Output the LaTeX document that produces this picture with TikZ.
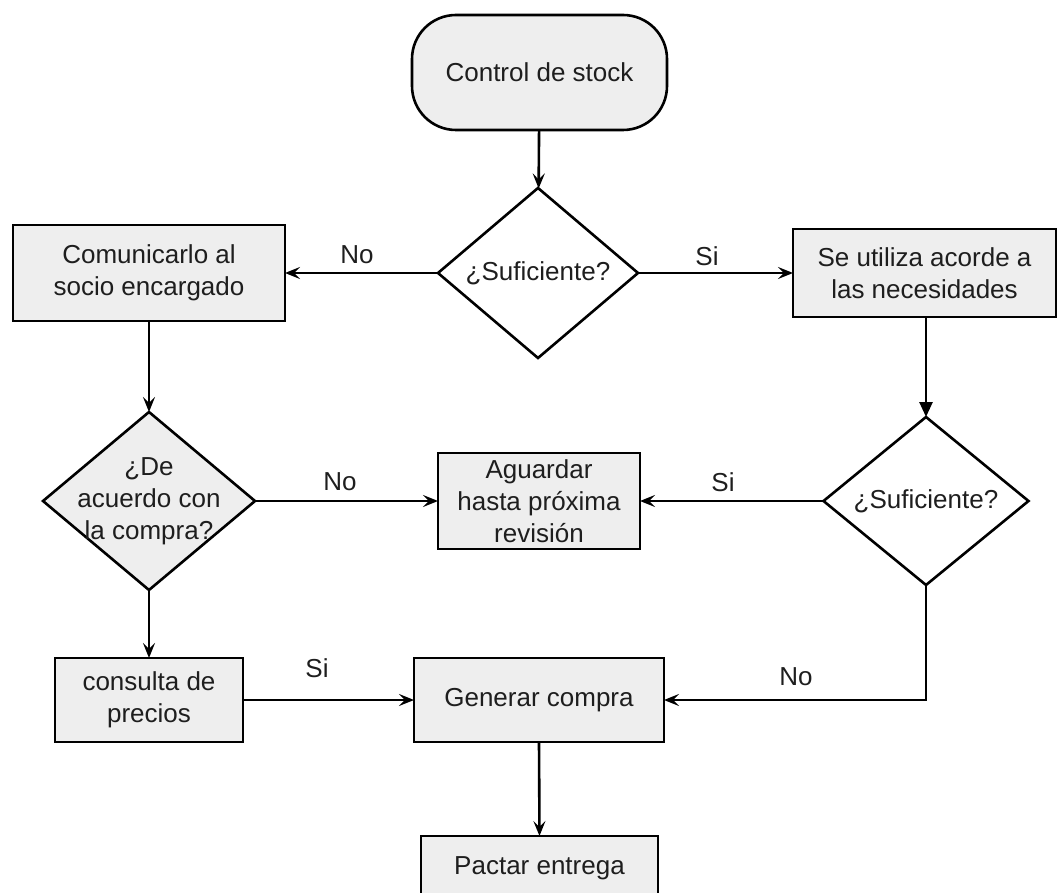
\documentclass[tikz,border=0pt]{standalone}
\usepackage{fontspec}
\usetikzlibrary{arrows.meta,shapes.geometric}
\newfontfamily\lblfam{Liberation Sans}
\newcommand\lblfont{\lblfam\fontsize{26}{32}\selectfont}
\definecolor{boxgray}{HTML}{EEEEEE}
\definecolor{inkgray}{HTML}{1E1E1E}
\tikzset{
  base/.style={draw=black, line width=2.6pt, inner sep=0pt, outer sep=0pt,
    align=center, font=\lblfont, text=inkgray},
  procbox/.style={base, rectangle, fill=boxgray},
  termbox/.style={base, rectangle, rounded corners=44pt, fill=boxgray},
  decis/.style={base, diamond},
  lab/.style={font=\lblfont, text=inkgray, inner sep=0pt},
  conn/.style={draw=black, line width=2.6pt, -{Stealth[length=15pt,width=12pt,inset=6pt]}},
  connfill/.style={draw=black, line width=2.6pt, -{Triangle[length=15pt,width=13pt]}}
}
\begin{document}
\begin{tikzpicture}[x=1pt,y=-1pt]
\useasboundingbox (0,0) rectangle (1058,893);
% nodes
\node[termbox, minimum width=255pt, minimum height=115pt] (start) at (539.5,72.5) {Control de stock};
\node[decis, minimum width=200pt, minimum height=170pt, label={[lab,align=center]center:¿Suficiente?}] (d1) at (538,273) {};
\node[procbox, minimum width=272pt, minimum height=96pt] (bL) at (149,273) {Comunicarlo al\\socio encargado};
\node[procbox, minimum width=263pt, minimum height=88pt] (bR) at (924.5,273) {Se utiliza acorde a\\las necesidades};
\node[decis, fill=boxgray, minimum width=212pt, minimum height=178pt, label={[lab,align=center]center:¿De\\acuerdo con\\la compra?}] (d2) at (149,501) {};
\node[procbox, minimum width=202pt, minimum height=96pt] (bM) at (539,501) {Aguardar\\hasta próxima\\revisión};
\node[decis, minimum width=205pt, minimum height=168pt, label={[lab,align=center]center:¿Suficiente?}] (d3) at (926,501) {};
\node[procbox, minimum width=188pt, minimum height=84pt] (bC) at (149,700) {consulta de\\precios};
\node[procbox, minimum width=250pt, minimum height=84pt] (bG) at (539,700) {Generar compra};
\node[procbox, minimum width=237pt, minimum height=64pt] (bP) at (539.5,868) {Pactar entrega};
% connectors
\draw[conn] (start) -- (d1);
\draw[conn] (d1.west) -- (bL.east);
\draw[conn] (d1.east) -- (bR.west);
\draw[conn] (bL.south) -- (d2.north);
\draw[connfill] (bR.south -| d3.north) -- (d3.north);
\draw[conn] (d2.east) -- (bM.west);
\draw[conn] (d3.west) -- (bM.east);
\draw[conn] (d2.south) -- (bC.north);
\draw[conn] (bC.east) -- (bG.west);
\draw[conn] (d3.south) |- (bG.east);
\draw[conn] (bG.south) -- (bP.north);
% labels
\node[lab] (l1) at (357,255) {No};
\node[lab] (l2) at (707,256) {Si};
\node[lab] (l3) at (340,482) {No};
\node[lab] (l4) at (723,482) {Si};
\node[lab] (l5) at (317,668) {Si};
\node[lab] (l6) at (796,677) {No};
\end{tikzpicture}
\end{document}
